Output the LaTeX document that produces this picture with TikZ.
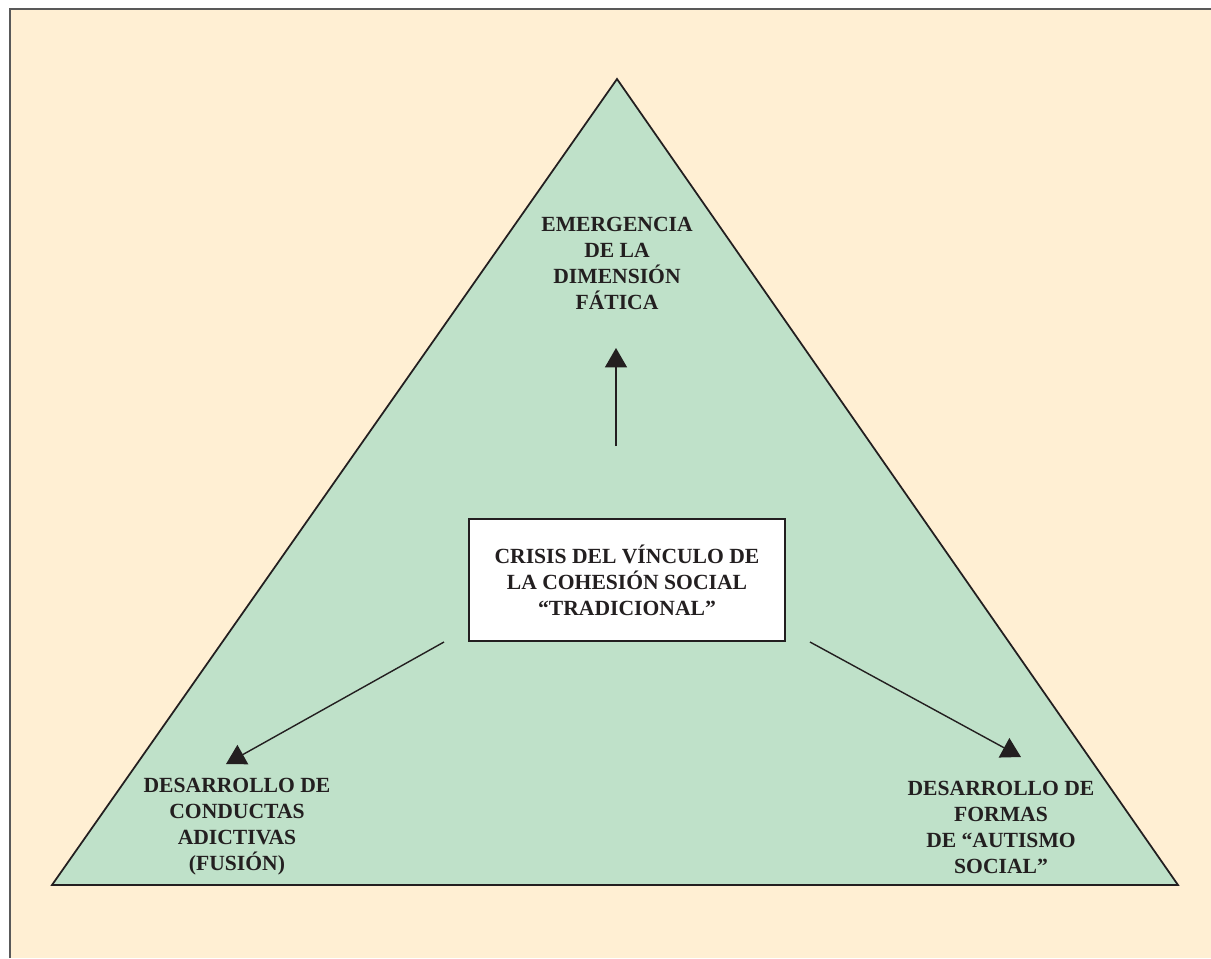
\documentclass[tikz,border=0pt]{standalone}
\usepackage{fontspec}
\setmainfont{Liberation Serif}
\usetikzlibrary{positioning,arrows.meta}
\definecolor{crema}{RGB}{255,239,211}
\definecolor{verde}{RGB}{191,225,201}
\definecolor{tinta}{RGB}{35,31,32}

\begin{document}
\begin{tikzpicture}[x=0.02cm,y=-0.02cm,node distance=0.2cm,on grid,auto,
  rotulo/.style={align=center,text=tinta,font=\bfseries\fontsize{12.3}{14.8}\selectfont},
  flecha/.style={-{Triangle[length=11pt,width=12.5pt]},line width=0.8pt,draw=tinta}]
\useasboundingbox (0,0) rectangle (1211,958);
\fill[crema] (10,9) rectangle (1211,958);
\draw[line width=1.2pt,black!65] (10,958) -- (10,9) -- (1211,9);
% triangulo
\coordinate (t_a) at (617,79);
\coordinate (t_l) at (52,885);
\coordinate (t_r) at (1178,885);
\filldraw[fill=verde,draw=tinta,line width=1pt] (t_a) -- (t_l) -- (t_r) -- cycle;
% nodos
\node[draw=tinta,fill=white,line width=0.9pt,minimum width=6.32cm,minimum height=2.44cm,rotulo](crisis) at (627,580) {CRISIS DEL VÍNCULO DE\\LA COHESIÓN SOCIAL\\“TRADICIONAL”};
\node[rotulo](fatica) at (617,263) {EMERGENCIA\\DE LA\\DIMENSIÓN\\FÁTICA};
\node[rotulo](fusion) at (237,827) {DESARROLLO DE\\CONDUCTAS\\ADICTIVAS\\(FUSIÓN)};
\node[rotulo](autismo) at (1001,827) {DESARROLLO DE\\FORMAS\\DE “AUTISMO\\SOCIAL”};
% flechas
\coordinate (c_up) at (616,446);
\coordinate (c_l) at (444,642);
\coordinate (c_r) at (810,642);
\coordinate (f_up) at (616,348);
\coordinate (f_l) at (226,764);
\coordinate (f_r) at (1021,757);
\draw[flecha] (c_up) -- (f_up);
\draw[flecha] (c_l) -- (f_l);
\draw[flecha] (c_r) -- (f_r);
\end{tikzpicture}
\end{document}
